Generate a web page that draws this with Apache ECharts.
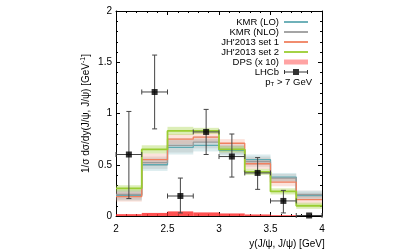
<!DOCTYPE html>
<html><head><meta charset="utf-8">
<script src="https://cdn.jsdelivr.net/npm/echarts@6/dist/echarts.min.js"></script>
<style>html,body{margin:0;padding:0;background:#fff}#c{width:414px;height:249px}</style>
</head><body><div id="c"></div>
<script>
// ---- data ----
var binEdges = [2, 2.25, 2.5, 2.75, 3, 3.25, 3.5, 3.75, 4];
var xTicks = ['2', '2.5', '3', '3.5', '4'];
var yTicks = ['0', '0.5', '1', '1.5', '2'];
var kmrLO  = [0.20, 0.50, 0.67, 0.69, 0.64, 0.55, 0.38, 0.20];
var kmrNLO = [0.21, 0.52, 0.69, 0.72, 0.65, 0.53, 0.37, 0.21];
var jh1    = [0.19, 0.55, 0.75, 0.77, 0.71, 0.51, 0.33, 0.16];
var jh2    = [0.27, 0.65, 0.83, 0.83, 0.65, 0.43, 0.24, 0.10];
var kmrLOErr  = [0.05, 0.06, 0.07, 0.06, 0.05, 0.05, 0.04, 0.04];
var kmrNLOErr = [0.05, 0.06, 0.07, 0.06, 0.05, 0.05, 0.04, 0.04];
var jh1Err    = [0.05, 0.06, 0.05, 0.05, 0.04, 0.05, 0.04, 0.04];
var jh2Err    = [0.03, 0.04, 0.04, 0.03, 0.03, 0.03, 0.03, 0.03];
var dps    = [0.018, 0.030, 0.045, 0.035, 0.025, 0.015, 0.008, 0.004];
var lhcbX  = [2.125, 2.375, 2.625, 2.875, 3.125, 3.375, 3.625, 3.875];
var lhcbY  = [0.60, 1.21, 0.195, 0.82, 0.58, 0.42, 0.147, 0.005];
var lhcbHi = [1.02, 1.57, 0.37, 1.04, 0.80, 0.57, 0.25, 0.005];
var lhcbLo = [0.17, 0.85, 0.03, 0.60, 0.38, 0.26, 0.03, 0.005];
var lhcbXErr = [0.125, 0.125, 0.125, 0.125, 0.125, 0.125, 0.125, 0.125];

var FONT = 'Liberation Sans';
function stepData(v){
  var d = [];
  for (var i = 0; i < v.length; i++) d.push([binEdges[i], v[i]]);
  d.push([binEdges[v.length], v[v.length-1]]);
  return d;
}
function bandData(v, e){
  return v.map(function(y, i){ return [binEdges[i], binEdges[i+1], y - e[i], y + e[i]]; });
}
function bandSeries(name, v, e, fill){
  return {
    type: 'custom', name: name, silent: true, z: 1,
    data: bandData(v, e), encode: {x: [0, 1], y: [2, 3]},
    renderItem: function(params, api){
      var a = api.coord([api.value(0), api.value(3)]);
      var b = api.coord([api.value(1), api.value(2)]);
      return {type: 'rect', shape: {x: a[0], y: a[1], width: b[0]-a[0], height: b[1]-a[1]}, style: {fill: fill}};
    }
  };
}
function lineSeries(name, v, color, w){
  return {type: 'line', name: name, step: 'end', data: stepData(v), symbol: 'none', showSymbol: false, z: 3,
    lineStyle: {color: color, width: w}, itemStyle: {color: color}};
}
var C = {lo: '#5fa9b1', nlo: '#9b9b9b', jh1: '#f0805f', jh2: '#9acd32'};
var LINE_ICON = 'path://M0,0H24V1.8H0Z';

var chart = echarts.init(document.getElementById('c'), null, {renderer: 'canvas'});
var axisCommon = {
  type: 'value', interval: 0.5,
  axisLine: {show: true, onZero: false, lineStyle: {color: '#000', width: 1}},
  axisTick: {show: true, inside: true, length: 4, lineStyle: {color: '#000'}},
  minorTick: {show: true, splitNumber: 5, length: 2, lineStyle: {color: '#000'}},
  splitLine: {show: false}
};
var option = {
  animation: false,
  backgroundColor: '#fff',
  grid: {left: 116, right: 92, top: 11, bottom: 33, containLabel: false, outerBoundsMode: 'none'},
  xAxis: [
    Object.assign({}, axisCommon, {min: 2, max: 4, position: 'bottom',
      name: 'y(J/\u03c8, J/\u03c8) [GeV]', nameLocation: 'middle', nameGap: 16,
      nameTextStyle: {fontFamily: FONT, fontSize: 10, color: '#000', verticalAlign: 'top', padding: [0, 0, 0, 136]},
      axisLabel: {margin: 8, fontFamily: FONT, fontSize: 10, color: '#000',
        formatter: function(v){ var i = Math.round((v - 2) / 0.5); return xTicks[i] || ''; }}}),
    Object.assign({}, axisCommon, {min: 2, max: 4, position: 'top', axisLabel: {show: false}})
  ],
  yAxis: [
    Object.assign({}, axisCommon, {min: 0, max: 2, position: 'left',
      name: '1/\u03c3 d\u03c3/dy(J/\u03c8, J/\u03c8) [GeV{sup|-1}]', nameLocation: 'middle', nameGap: 24, nameRotate: 90,
      nameTextStyle: {fontFamily: FONT, fontSize: 10, color: '#000',
        rich: {sup: {fontFamily: FONT, fontSize: 7, color: '#000', verticalAlign: 'top', padding: [0, 0, 5, 0]}}},
      axisLabel: {margin: 4, fontFamily: FONT, fontSize: 10, color: '#000',
        formatter: function(v){ var i = Math.round(v / 0.5); return yTicks[i] || ''; }}}),
    Object.assign({}, axisCommon, {min: 0, max: 2, position: 'right', axisLabel: {show: false}})
  ],
  legend: {
    orient: 'vertical', align: 'right', right: 101, top: 12,
    itemWidth: 24, itemHeight: 8, itemGap: 0,
    textStyle: {fontFamily: FONT, fontSize: 9.5, color: '#000', lineHeight: 10},
    selectedMode: false,
    data: [
      {name: 'KMR (LO)', icon: LINE_ICON}, {name: 'KMR (NLO)', icon: LINE_ICON},
      {name: "JH'2013 set 1", icon: LINE_ICON}, {name: "JH'2013 set 2", icon: LINE_ICON},
      {name: 'DPS (x 10)', icon: 'path://M0,0H24V5H0Z'},
      {name: 'LHCb', icon: 'path://M0,3.4H24V4.6H0Z M0,2H1V6H0Z M23,2H24V6H23Z M9,1H15V7H9Z'}
    ]
  },
  graphic: [{
    type: 'text', right: 102, top: 77,
    style: {text: 'p{sub|T} > 7 GeV', font: '9.5px ' + FONT, fill: '#000',
      rich: {sub: {fontSize: 6, fontFamily: FONT, fill: '#000', verticalAlign: 'bottom', padding: [4, 0, 0, 0]}}}
  }],
  series: [
    bandSeries('band LO', kmrLO, kmrLOErr, 'rgba(95,169,177,0.22)'),
    bandSeries('band NLO', kmrNLO, kmrNLOErr, 'rgba(150,150,150,0.22)'),
    bandSeries('band JH1', jh1, jh1Err, 'rgba(240,128,95,0.22)'),
    bandSeries('band JH2', jh2, jh2Err, 'rgba(154,205,50,0.35)'),
    lineSeries('KMR (LO)', kmrLO, C.lo, 1.3),
    lineSeries('KMR (NLO)', kmrNLO, C.nlo, 1.3),
    lineSeries("JH'2013 set 1", jh1, C.jh1, 1.3),
    lineSeries("JH'2013 set 2", jh2, C.jh2, 1.8),
    {
      type: 'custom', name: 'DPS (x 10)', z: 4, itemStyle: {color: '#ffa3a3'},
      data: dps.map(function(v, i){ return [binEdges[i], binEdges[i+1], 0, v]; }),
      encode: {x: [0, 1], y: [2, 3]},
      renderItem: function(params, api){
        var a = api.coord([api.value(0), api.value(3)]);
        var b = api.coord([api.value(1), api.value(2)]);
        return {type: 'rect', shape: {x: a[0], y: a[1], width: b[0]-a[0], height: b[1]-a[1]}, style: {fill: 'rgba(255,50,50,0.85)'}};
      }
    },
    {
      type: 'custom', name: 'LHCb err', z: 5, silent: true,
      data: lhcbX.map(function(x, i){ return [x, lhcbY[i], lhcbLo[i], lhcbHi[i], x - lhcbXErr[i], x + lhcbXErr[i]]; }),
      encode: {x: [0, 4, 5], y: [1, 2, 3]},
      renderItem: function(params, api){
        var c = api.coord([api.value(0), api.value(1)]);
        var lo = api.coord([api.value(0), api.value(2)]);
        var hi = api.coord([api.value(0), api.value(3)]);
        var xl = api.coord([api.value(4), api.value(1)]);
        var xr = api.coord([api.value(5), api.value(1)]);
        var st = {stroke: '#444', lineWidth: 1};
        var cw = 2.5;
        return {type: 'group', children: [
          {type: 'line', shape: {x1: c[0], y1: lo[1], x2: c[0], y2: hi[1]}, style: st},
          {type: 'line', shape: {x1: c[0]-cw, y1: lo[1], x2: c[0]+cw, y2: lo[1]}, style: st},
          {type: 'line', shape: {x1: c[0]-cw, y1: hi[1], x2: c[0]+cw, y2: hi[1]}, style: st},
          {type: 'line', shape: {x1: xl[0], y1: c[1], x2: xr[0], y2: c[1]}, style: st},
          {type: 'line', shape: {x1: xl[0], y1: c[1]-cw, x2: xl[0], y2: c[1]+cw}, style: st},
          {type: 'line', shape: {x1: xr[0], y1: c[1]-cw, x2: xr[0], y2: c[1]+cw}, style: st}
        ]};
      }
    },
    {
      type: 'scatter', name: 'LHCb', z: 6, symbol: 'rect', symbolSize: 6,
      itemStyle: {color: '#000'},
      data: lhcbX.map(function(x, i){ return [x, lhcbY[i]]; })
    }
  ]
};
chart.setOption(option);
</script></body></html>
